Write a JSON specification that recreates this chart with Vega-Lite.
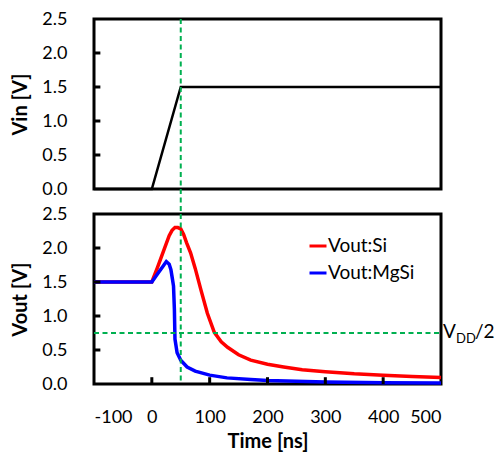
{
  "$schema": "https://vega.github.io/schema/vega-lite/v6.json",
  "background": "white",
  "padding": {"left": 9, "top": 8, "right": 2, "bottom": 2},
  "spacing": 25,
  "bounds": "flush",
  "config": {
    "font": "Lato",
    "view": {"stroke": "black", "strokeWidth": 3},
    "axis": {
      "labelFont": "Lato", "labelFontSize": 18, "labelColor": "black",
      "titleFont": "Lato", "titleFontSize": 20, "titleFontWeight": "bold", "titleColor": "black",
      "grid": false, "domain": false, "ticks": false, "labelOverlap": false, "tickCount": 10
    },
    "legend": {
      "labelFont": "Lato", "labelFontSize": 19, "labelColor": "black",
      "symbolType": "stroke", "symbolStrokeWidth": 3, "symbolSize": 289, "rowPadding": 7, "labelOffset": 0
    }
  },
  "datasets": {
    "vin": [
      {"t": -100, "v": 0}, {"t": 0, "v": 0}, {"t": 50, "v": 1.5}, {"t": 500, "v": 1.5}
    ],
    "one": [{}],
    "xt": [{"t": 0}, {"t": 100}, {"t": 200}, {"t": 300}, {"t": 400}],
    "yt": [{"v": 0.5}, {"v": 1}, {"v": 1.5}, {"v": 2}],
    "vout": [
      {"s": "Vout:Si", "t": -100, "v": 1.5}, {"s": "Vout:Si", "t": 0, "v": 1.5},
      {"s": "Vout:Si", "t": 10, "v": 1.72}, {"s": "Vout:Si", "t": 20, "v": 1.95},
      {"s": "Vout:Si", "t": 30, "v": 2.18}, {"s": "Vout:Si", "t": 35, "v": 2.26},
      {"s": "Vout:Si", "t": 40, "v": 2.3}, {"s": "Vout:Si", "t": 45, "v": 2.3},
      {"s": "Vout:Si", "t": 50, "v": 2.28}, {"s": "Vout:Si", "t": 55, "v": 2.2},
      {"s": "Vout:Si", "t": 60, "v": 2.08}, {"s": "Vout:Si", "t": 67, "v": 1.93},
      {"s": "Vout:Si", "t": 75, "v": 1.7}, {"s": "Vout:Si", "t": 85, "v": 1.38},
      {"s": "Vout:Si", "t": 96, "v": 1.04}, {"s": "Vout:Si", "t": 108, "v": 0.76},
      {"s": "Vout:Si", "t": 120, "v": 0.62}, {"s": "Vout:Si", "t": 131, "v": 0.54},
      {"s": "Vout:Si", "t": 150, "v": 0.43}, {"s": "Vout:Si", "t": 171, "v": 0.35},
      {"s": "Vout:Si", "t": 200, "v": 0.29}, {"s": "Vout:Si", "t": 228, "v": 0.25},
      {"s": "Vout:Si", "t": 260, "v": 0.21}, {"s": "Vout:Si", "t": 300, "v": 0.18},
      {"s": "Vout:Si", "t": 350, "v": 0.15}, {"s": "Vout:Si", "t": 400, "v": 0.13},
      {"s": "Vout:Si", "t": 450, "v": 0.11}, {"s": "Vout:Si", "t": 500, "v": 0.095},
      {"s": "Vout:MgSi", "t": -100, "v": 1.5}, {"s": "Vout:MgSi", "t": 0, "v": 1.5},
      {"s": "Vout:MgSi", "t": 10, "v": 1.62}, {"s": "Vout:MgSi", "t": 20, "v": 1.74},
      {"s": "Vout:MgSi", "t": 25, "v": 1.8}, {"s": "Vout:MgSi", "t": 30, "v": 1.76},
      {"s": "Vout:MgSi", "t": 33, "v": 1.68}, {"s": "Vout:MgSi", "t": 35.5, "v": 1.55},
      {"s": "Vout:MgSi", "t": 37.5, "v": 1.44}, {"s": "Vout:MgSi", "t": 39, "v": 1.1},
      {"s": "Vout:MgSi", "t": 40, "v": 0.66}, {"s": "Vout:MgSi", "t": 43.7, "v": 0.46},
      {"s": "Vout:MgSi", "t": 50, "v": 0.35}, {"s": "Vout:MgSi", "t": 61, "v": 0.25},
      {"s": "Vout:MgSi", "t": 75, "v": 0.19}, {"s": "Vout:MgSi", "t": 100, "v": 0.13},
      {"s": "Vout:MgSi", "t": 130, "v": 0.09}, {"s": "Vout:MgSi", "t": 171, "v": 0.065},
      {"s": "Vout:MgSi", "t": 200, "v": 0.05}, {"s": "Vout:MgSi", "t": 250, "v": 0.04},
      {"s": "Vout:MgSi", "t": 300, "v": 0.03}, {"s": "Vout:MgSi", "t": 400, "v": 0.02},
      {"s": "Vout:MgSi", "t": 500, "v": 0.015}
    ]
  },
  "vconcat": [
    {
      "width": 347, "height": 170,
      "layer": [
        {
          "data": {"name": "vin"},
          "mark": {"type": "line", "color": "black", "strokeWidth": 2.5},
          "encoding": {
            "x": {"field": "t", "type": "quantitative", "scale": {"domain": [-100, 500], "nice": false}, "axis": null},
            "y": {"field": "v", "type": "quantitative", "scale": {"domain": [0, 2.5], "nice": false},
                  "axis": {"title": "Vin [V]", "values": [0, 0.5, 1, 1.5, 2, 2.5], "format": ".1f", "labelPadding": 27, "titlePadding": 11}}
          }
        },
        {
          "data": {"name": "yt"},
          "mark": {"type": "rule", "color": "black", "strokeWidth": 3},
          "encoding": {
            "x": {"datum": -100, "type": "quantitative"},
            "x2": {"datum": -89},
            "y": {"field": "v", "type": "quantitative"}
          }
        },
        {
          "data": {"name": "one"},
          "mark": {"type": "rule", "color": "#00b050", "strokeWidth": 2, "strokeDash": [5, 3.5]},
          "encoding": {
            "x": {"datum": 50, "type": "quantitative"},
            "y": {"datum": 2.5, "type": "quantitative"},
            "y2": {"datum": -0.37}
          }
        }
      ]
    },
    {
      "width": 347, "height": 170,
      "layer": [
        {
          "data": {"name": "vout"},
          "mark": {"type": "line", "strokeWidth": 3.5},
          "encoding": {
            "x": {"field": "t", "type": "quantitative", "scale": {"domain": [-100, 500], "nice": false},
                  "axis": {"title": "Time [ns]", "values": [-100, 0, 100, 200, 300, 400, 500], "labelExpr": "'' + datum.value", "labelPadding": 24, "titlePadding": 5}},
            "y": {"field": "v", "type": "quantitative", "scale": {"domain": [0, 2.5], "nice": false},
                  "axis": {"title": "Vout [V]", "values": [0, 0.5, 1, 1.5, 2, 2.5], "format": ".1f", "labelPadding": 27, "titlePadding": 11}},
            "color": {"field": "s", "type": "nominal",
                      "scale": {"domain": ["Vout:Si", "Vout:MgSi"], "range": ["#ff0000", "#0000ff"]},
                      "legend": {"title": null, "orient": "none", "legendX": 214, "legendY": 217}},
            "order": {"field": "t", "type": "quantitative"}
          }
        },
        {
          "data": {"name": "yt"},
          "mark": {"type": "rule", "color": "black", "strokeWidth": 3},
          "encoding": {
            "x": {"datum": -100, "type": "quantitative"},
            "x2": {"datum": -89},
            "y": {"field": "v", "type": "quantitative"}
          }
        },
        {
          "data": {"name": "xt"},
          "mark": {"type": "rule", "color": "black", "strokeWidth": 3},
          "encoding": {
            "x": {"field": "t", "type": "quantitative"},
            "y": {"datum": 0, "type": "quantitative"},
            "y2": {"datum": 0.1}
          }
        },
        {
          "data": {"name": "one"},
          "mark": {"type": "rule", "color": "#00b050", "strokeWidth": 2, "strokeDash": [5, 3.5]},
          "encoding": {
            "x": {"datum": 50, "type": "quantitative"},
            "y": {"datum": 2.5, "type": "quantitative"},
            "y2": {"datum": 0}
          }
        },
        {
          "data": {"name": "one"},
          "mark": {"type": "rule", "color": "#00b050", "strokeWidth": 2, "strokeDash": [5, 3.5]},
          "encoding": {
            "x": {"datum": -100, "type": "quantitative"},
            "x2": {"datum": 500},
            "y": {"datum": 0.75, "type": "quantitative"}
          }
        },
        {
          "data": {"name": "one"},
          "mark": {"type": "text", "text": "V", "align": "left", "baseline": "alphabetic", "fontSize": 19, "dx": 2, "dy": 5, "font": "Lato", "color": "black"},
          "encoding": {"x": {"datum": 500, "type": "quantitative"}, "y": {"datum": 0.75, "type": "quantitative"}}
        },
        {
          "data": {"name": "one"},
          "mark": {"type": "text", "text": "DD", "align": "left", "baseline": "alphabetic", "fontSize": 13, "dx": 15, "dy": 10, "font": "Lato", "color": "black"},
          "encoding": {"x": {"datum": 500, "type": "quantitative"}, "y": {"datum": 0.75, "type": "quantitative"}}
        },
        {
          "data": {"name": "one"},
          "mark": {"type": "text", "text": "/2", "align": "left", "baseline": "alphabetic", "fontSize": 19, "dx": 34, "dy": 5, "font": "Lato", "color": "black"},
          "encoding": {"x": {"datum": 500, "type": "quantitative"}, "y": {"datum": 0.75, "type": "quantitative"}}
        }
      ]
    }
  ]
}
